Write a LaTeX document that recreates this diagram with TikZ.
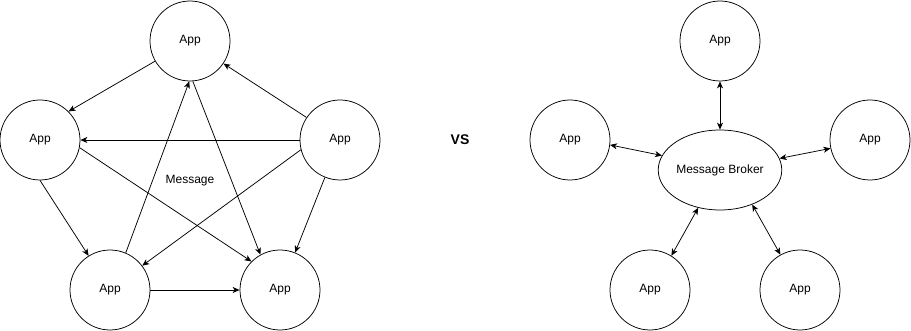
\documentclass[tikz,border=0pt]{standalone}
\usepackage{fontspec}
\setmainfont{Liberation Sans}
\usepackage{tikz}
\usetikzlibrary{arrows.meta,shapes.geometric}
\tikzset{
  ar/.style={-{Stealth[length=7pt,width=6pt,inset=2pt]},line width=0.75pt},
  dar/.style={{Stealth[length=7pt,width=6pt,inset=2pt]}-{Stealth[length=7pt,width=6pt,inset=2pt]},line width=0.75pt},
  app/.style={circle,draw,line width=0.75pt,minimum size=80pt,inner sep=0pt,font=\fontsize{12}{14}\selectfont},
  hub/.style={ellipse,draw,line width=0.75pt,minimum width=120pt,minimum height=80pt,inner sep=0pt,font=\fontsize{12}{14}\selectfont}
}
\begin{document}
\begin{tikzpicture}[x=1pt,y=-1pt]
\useasboundingbox (0,0) rectangle (911,331);
% point to point
\node[app] (appT) at (190,41) {App};
\node[app] (appL) at (40,140) {App};
\node[app] (appR) at (340,140) {App};
\node[app] (appBL) at (110,290) {App};
\node[app] (appBR) at (280,290) {App};
\node[font=\fontsize{12}{14}\selectfont] (msg) at (190,181) {Message};
\draw[ar] (appT.210) -- (appL.45);
\draw[ar] (appR.146) -- (appT.-34);
\draw[ar] (appR.west) -- (appL.east);
\draw[ar] (appL.-11) -- (appBR.135);
\draw[ar] (appT.-86) -- (appBR.119);
\draw[ar] (appBL.67) -- (appT.-91);
\draw[ar] (appR.194) -- (appBL.37);
\draw[ar] (appR.248) -- (appBR.68);
\draw[ar] (appL.south) -- (appBL.122);
\draw[ar] (appBL.east) -- (appBR.west);
\node[font=\fontsize{14}{16}\selectfont\bfseries] (vs) at (460,140) {VS};
% broker
\node[hub] (broker) at (720,170) {Message Broker};
\node[app] (hubT) at (720,41) {App};
\node[app] (hubL) at (570,140) {App};
\node[app] (hubR) at (870,140) {App};
\node[app] (hubBL) at (650,290) {App};
\node[app] (hubBR) at (800,290) {App};
\draw[dar] (hubT.south) -- (broker.north);
\draw[dar] (hubL.-7) -- (broker.166);
\draw[dar] (hubR.192) -- (broker.11);
\draw[dar] (hubBL.58) -- (broker.-120);
\draw[dar] (hubBR.119) -- (broker.-47);
\end{tikzpicture}
\end{document}
